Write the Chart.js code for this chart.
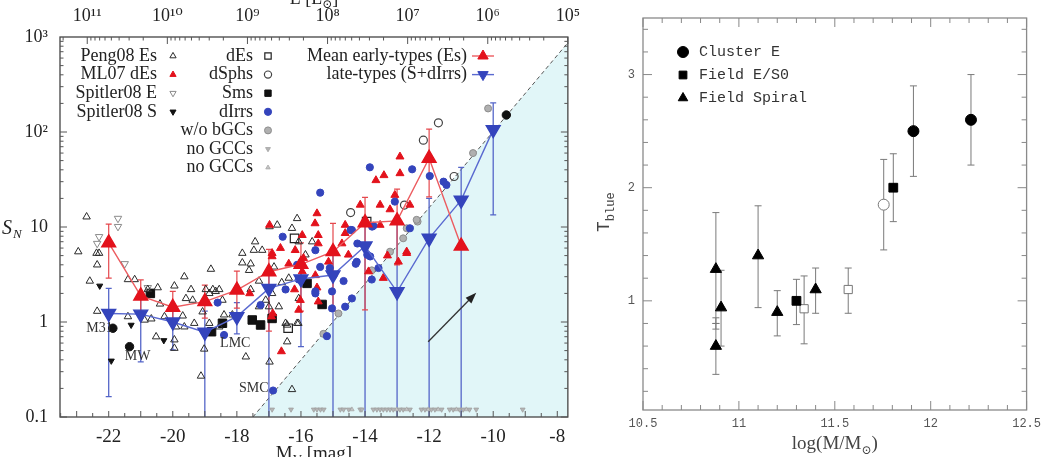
<!DOCTYPE html>
<html>
<head>
<meta charset="utf-8">
<script src="https://cdn.jsdelivr.net/npm/chart.js@4.4.1/dist/chart.umd.min.js"></script>
<style>
html, body { margin: 0; padding: 0; background: #fff; width: 1048px; height: 457px; overflow: hidden; }
#leftBox { position: absolute; left: 0; top: -12px; width: 590px; height: 469px; }
#rightBox { position: absolute; left: 580px; top: 0; width: 468px; height: 457px; }
</style>
</head>
<body>
<div id="leftBox"><canvas id="snChart"></canvas></div>
<div id="rightBox"><canvas id="tbChart"></canvas></div>
<script>
// ---------- left panel data: S_N vs M_V ----------
const magTicks = [-22, -20, -18, -16, -14, -12, -10, -8];
const snTicks = [0.1, 1, 10, 100, 1000];
const snTickLabels = ['0.1', '1', '10', '10²', '10³'];
const lumPowers = [11, 10, 9, 8, 7, 6, 5];
const lumLabels = ['10¹¹', '10¹⁰', '10⁹', '10⁸', '10⁷', '10⁶', '10⁵'];

// binned means
const meanMag = [-22, -21, -20, -19, -18, -17, -16, -15, -14, -13, -12, -11];
const meanEs = [6.8, 1.88, 1.43, 1.64, 2.17, 3.38, 4.05, 5.5, 11.1, 11.6, 52.9, 6.3];
const meanEsLo = [2.9, 1.3, 1.0, 1.1, 1.4, 0.8, 1.3, 1.3, 1.34, 4.0, 20.8, null];
const meanEsHi = [10.7, 2.77, 2.1, 2.45, 3.44, 5.8, 6.8, 10.9, 20.5, 25, 107, null];

const lateMag = [-22, -21, -20, -19, -18, -17, -16, -15, -14, -13, -12, -11, -10];
const lateS = [1.23, 1.21, 1.0, 0.78, 1.14, 2.26, 2.84, 3.12, 6.3, 2.08, 7.6, 19.2, 106];
const lateLo = [0.164, 0.38, 0.51, 0.05, 0.75, 0.05, 0.55, 0.05, 0.05, 0.05, 0.05, 0.05, 13.4];
const lateHi = [2.26, 1.9, 1.5, 1.3, 1.6, 3.5, 4.5, 5.5, 11, 12, 20, 42.4, 203];

// N_GC = 1 limit (edge of shaded area)
const limitMag = [-17.5, -7.67];
const limitSN = [0.1, 870];

const peng08Es = [
  [-22.69, 12.8], [-22.95, 5.5], [-22.38, 5.3], [-22.30, 5.3], [-22.36, 4.0], [-22.59, 2.7], [-22.36, 1.3],
  [-21.40, 2.8], [-21.19, 2.8], [-20.78, 2.2], [-20.47, 2.3], [-19.95, 2.4], [-19.64, 3.0], [-18.81, 3.6],
  [-18.55, 2.2], [-18.97, 2.2], [-21.40, 1.14], [-20.88, 1.05], [-20.67, 1.08], [-20.26, 1.14], [-19.69, 1.16],
  [-19.90, 0.89], [-19.64, 0.89], [-19.95, 0.65], [-19.95, 0.53], [-20.52, 0.70], [-19.43, 2.2], [-19.59, 1.77],
  [-19.38, 1.70], [-18.86, 2.0], [-18.66, 2.1], [-18.45, 1.70], [-19.33, 0.97], [-19.07, 1.28], [-18.86, 0.97],
  [-18.55, 0.89], [-18.40, 1.19], [-18.14, 1.19], [-17.83, 5.3], [-17.57, 4.1], [-17.62, 3.5], [-17.47, 5.7],
  [-17.21, 5.7], [-17.57, 2.2], [-17.31, 2.7], [-17.10, 1.70], [-16.69, 1.45], [-16.98, 10.1], [-16.74, 10.5],
  [-16.28, 9.7], [-16.07, 7.0], [-15.65, 7.0], [-16.07, 1.77], [-16.12, 0.97], [-16.43, 0.93], [-16.43, 0.62],
  [-16.98, 0.38], [-17.72, 0.43], [-19.12, 0.27], [-19.02, 0.52], [-16.28, 0.195], [-16.84, 3.8], [-16.38, 2.9],
  [-17.00, 1.45], [-17.31, 1.45], [-16.12, 12.3], [-17.43, 7.0], [-17.83, 4.2], [-18.75, 2.2], [-16.48, 0.97],
  [-16.08, 0.97], [-15.86, 5.1], [-21.00, 1.9], [-20.40, 1.55], [-16.60, 2.6], [-16.90, 2.0]
];
const ml07dEs = [
  [-16.98, 10.5], [-15.96, 8.2], [-15.50, 13.9], [-14.62, 10.5], [-14.15, 17.1], [-13.53, 17.1], [-14.72, 6.7],
  [-15.14, 4.3], [-15.55, 3.1], [-16.90, 5.3], [-16.64, 6.0], [-16.38, 4.1], [-15.96, 3.4], [-16.02, 1.70],
  [-16.07, 1.34], [-16.92, 1.14], [-16.61, 0.49], [-12.70, 5.3], [-12.96, 4.3], [-13.89, 3.4], [-13.43, 2.9],
  [-12.91, 55], [-12.91, 36.7], [-13.41, 35], [-13.66, 31], [-13.22, 15.3], [-13.07, 21.7], [-12.60, 17.1],
  [-13.53, 10.5], [-14.52, 5.1], [-12.70, 5.5], [-15.56, 10.9], [-14.62, 8.6], [-16.18, 5.7], [-15.92, 4.7],
  [-15.46, 8.2], [-15.46, 6.7], [-16.90, 4.9], [-16.20, 2.2], [-15.50, 2.3], [-15.46, 1.64], [-16.88, 1.23],
  [-17.60, 2.0], [-13.30, 5.0]
];
const spitlerE = [[-21.71, 12.3], [-21.71, 10.1], [-22.30, 7.9], [-22.36, 6.7], [-21.50, 4.1], [-20.78, 2.3]];
const spitlerS = [[-22.28, 2.4], [-21.30, 0.93], [-20.28, 0.64], [-21.92, 0.39], [-20.67, 2.1]];
const dEs = [[-16.20, 7.6], [-13.95, 11.4], [-16.40, 0.86]];
const dSphs = [[-11.71, 125], [-12.18, 82], [-14.45, 14.2], [-12.77, 17], [-11.22, 34]];
const sms = [[-15.81, 2.55], [-15.34, 1.53], [-17.52, 1.05], [-17.26, 0.93], [-16.90, 1.09], [-18.45, 0.97], [-18.79, 0.79], [-20.70, 2.0]];
const dIrrs = [
  [-16.57, 7.9], [-15.55, 5.7], [-14.41, 9.3], [-13.74, 10.3], [-13.07, 18.5], [-16.12, 4.0], [-15.40, 3.8],
  [-14.98, 3.1], [-14.67, 2.7], [-14.26, 4.3], [-13.84, 4.9], [-13.79, 2.8], [-13.58, 3.7], [-15.55, 2.1],
  [-15.03, 2.1], [-14.41, 1.77], [-15.03, 1.39], [-14.62, 1.45], [-15.19, 0.71], [-17.26, 1.51], [-18.40, 0.73],
  [-16.87, 0.19], [-16.48, 2.2], [-13.85, 42.5], [-12.53, 40.5], [-11.98, 34.4], [-11.46, 27.7], [-14.45, 9.3],
  [-13.78, 10.1], [-12.60, 9.7], [-14.24, 6.7], [-13.93, 5.1], [-14.29, 4.1], [-15.40, 23], [-16.07, 2.8],
  [-15.55, 2.0], [-15.10, 3.7], [-18.60, 1.6], [-11.55, 30]
];
const woBGCs = [[-10.16, 177], [-10.63, 60], [-12.36, 11.4], [-12.81, 7.6], [-13.22, 5.5], [-13.79, 3.5], [-14.83, 1.23], [-12.70, 9.7], [-12.39, 11.9], [-15.30, 0.75]];
const noGccDown = [
  [-16.90, 0.12], [-16.31, 0.12], [-15.60, 0.12], [-15.50, 0.12], [-15.39, 0.12], [-15.29, 0.12], [-14.77, 0.12],
  [-14.67, 0.12], [-14.51, 0.12], [-14.15, 0.12], [-14.10, 0.12], [-13.74, 0.12], [-13.63, 0.12], [-13.53, 0.12],
  [-13.43, 0.12], [-13.32, 0.12], [-13.22, 0.12], [-13.12, 0.12], [-12.91, 0.12], [-12.81, 0.12], [-12.60, 0.12],
  [-12.24, 0.12], [-12.13, 0.12], [-11.93, 0.12], [-11.82, 0.12], [-11.61, 0.12], [-11.36, 0.12], [-11.25, 0.12],
  [-11.05, 0.12], [-10.94, 0.12], [-10.74, 0.12], [-10.53, 0.12], [-9.08, 0.12]
];
const noGccUp = [[-14.41, 0.12], [-13.01, 0.12], [-12.70, 0.12], [-12.03, 0.12], [-11.72, 0.12], [-11.15, 0.12], [-10.84, 0.12]];
const bigSpirals = [[-21.87, 0.86], [-21.35, 0.55], [-9.59, 151]];

const galaxyNames = ['M31', 'MW', 'LMC', 'SMC'];
const nameMag = [-22.29, -21.10, -18.05, -17.47];
const nameSN = [0.865, 0.43, 0.60, 0.20];
const arrowMag = [-12.03, -10.53];
const arrowSN = [0.62, 2.03];

// ---------- right panel data: T_blue vs log(M) ----------
// rows: [logM, T, low, high]
const clusterE = [[11.91, 2.50, 2.10, 2.90], [12.21, 2.60, 2.20, 3.00]];
const fieldES0 = [[11.30, 1.00, 0.79, 1.19], [11.805, 2.00, 1.70, 2.30]];
const fieldSpiral = [[10.88, 1.28, 0.80, 1.78], [10.907, 0.94, 0.60, 1.27], [10.88, 0.60, 0.35, 0.80], [11.10, 1.40, 0.94, 1.84], [11.20, 0.90, 0.69, 1.09], [11.40, 1.10, 0.89, 1.29]];
const openCircle = [[11.755, 1.85, 1.45, 2.25]];
const openSquares = [[11.34, 0.93, 0.62, 1.22], [11.57, 1.10, 0.89, 1.29]];
const smallBar = [[10.88, 0.80, 0.75, 0.85]];
const massTicks = [10.5, 11, 11.5, 12, 12.5];
const tTicks = [1, 2, 3];

const SERIF = '"Liberation Serif", "DejaVu Serif", serif';
const MONO = '"Liberation Mono", "DejaVu Sans Mono", monospace';

const xy = arr => arr.map(p => ({ x: p[0], y: p[1] }));
const zip = (xs, ys) => xs.map((v, i) => ({ x: v, y: ys[i] }));

function mark(ctx, style, x, y, r, rot, fill, stroke, lw) {
  ctx.save();
  ctx.beginPath();
  if (style === 'circle') {
    ctx.arc(x, y, r, 0, Math.PI * 2);
  } else if (style === 'rect') {
    const s = r * Math.SQRT1_2;
    ctx.rect(x - s, y - s, 2 * s, 2 * s);
  } else {
    let a = (rot || 0) * Math.PI / 180;
    for (let k = 0; k < 3; k++) {
      const px = x + Math.sin(a) * r, py = y - Math.cos(a) * r;
      k === 0 ? ctx.moveTo(px, py) : ctx.lineTo(px, py);
      a += Math.PI * 2 / 3;
    }
    ctx.closePath();
  }
  if (fill) { ctx.fillStyle = fill; ctx.fill(); }
  if (stroke && lw > 0) { ctx.strokeStyle = stroke; ctx.lineWidth = lw; ctx.stroke(); }
  ctx.restore();
}

function errBars(ctx, xs, ys, px, lo, hi, color, cap, lw) {
  ctx.strokeStyle = color;
  ctx.lineWidth = lw;
  px.forEach((m, i) => {
    if (lo[i] == null) return;
    const x = xs.getPixelForValue(m);
    const y1 = ys.getPixelForValue(lo[i]), y2 = ys.getPixelForValue(hi[i]);
    ctx.beginPath();
    ctx.moveTo(x, y1); ctx.lineTo(x, y2);
    ctx.moveTo(x - cap, y1); ctx.lineTo(x + cap, y1);
    ctx.moveTo(x - cap, y2); ctx.lineTo(x + cap, y2);
    ctx.stroke();
  });
}

// scatter dataset helper
function pset(label, data, style, r, fill, stroke, rot, lw, order) {
  return {
    label: label, data: xy(data), pointStyle: style, pointRadius: r, pointRotation: rot || 0,
    pointBackgroundColor: fill, pointBorderColor: stroke, pointBorderWidth: lw == null ? 1 : lw,
    order: order || 10
  };
}

const RED = '#e3121c', BLUE = '#3444bc';

const leftSets = [
  { label: 'limit', type: 'line', data: zip(limitMag, limitSN), borderColor: '#555', borderDash: [4, 3], borderWidth: 1,
    backgroundColor: '#e1f6f8', fill: 'start', pointRadius: 0, order: 100 },
  pset('no GCCs', noGccDown, 'triangle', 2.8, '#b5b5b5', '#a0a0a0', 180, 0.8, 40),
  pset('no GCCs up', noGccUp, 'triangle', 2.6, '#c5c5c5', '#a8a8a8', 0, 0.8, 40),
  pset('Peng08 Es', peng08Es, 'triangle', 4.3, 'rgba(255,255,255,0)', '#2a2a2a', 0, 1, 30),
  pset('Spitler08 E', spitlerE, 'triangle', 4.3, 'rgba(255,255,255,0)', '#8a8a8a', 180, 1, 30),
  pset('Spitler08 S', spitlerS, 'triangle', 3.5, '#111', '#111', 180, 1, 30),
  pset('dEs', dEs, 'rect', 6, 'rgba(255,255,255,0)', '#222', 0, 1.2, 30),
  pset('dSphs', dSphs, 'circle', 4, 'rgba(255,255,255,0)', '#444', 0, 1.2, 30),
  pset('Sms', sms, 'rect', 6, '#111', '#111', 0, 1, 30),
  pset('w/o bGCs', woBGCs, 'circle', 3.5, '#b0b0b0', '#8c8c8c', 0, 1, 25),
  pset('dIrrs', dIrrs, 'circle', 3.6, BLUE, BLUE, 0, 1, 20),
  pset('ML07 dEs', ml07dEs, 'triangle', 4.6, RED, RED, 0, 1, 20),
  pset('named', bigSpirals, 'circle', 4.2, '#111', '#111', 0, 1, 20),
  { label: 'late-types (S+dIrrs)', type: 'line', data: zip(lateMag, lateS), borderColor: '#5a6ad0', borderWidth: 1.4,
    pointStyle: 'triangle', pointRotation: 180, pointRadius: 8, pointBackgroundColor: BLUE, pointBorderColor: BLUE,
    fill: false, tension: 0, order: 2 },
  { label: 'Mean early-types (Es)', type: 'line', data: zip(meanMag, meanEs), borderColor: '#ec5c60', borderWidth: 1.4,
    pointStyle: 'triangle', pointRadius: 8, pointBackgroundColor: RED, pointBorderColor: RED,
    fill: false, tension: 0, order: 1 }
];

// legend layout: [dataset label, column, row, legend text]
const leftLegend = [
  ['Peng08 Es', 0, 0], ['ML07 dEs', 0, 1], ['Spitler08 E', 0, 2], ['Spitler08 S', 0, 3],
  ['dEs', 1, 0], ['dSphs', 1, 1], ['Sms', 1, 2], ['dIrrs', 1, 3], ['w/o bGCs', 1, 4], ['no GCCs', 1, 5], ['no GCCs up', 1, 6, 'no GCCs'],
  ['Mean early-types (Es)', 2, 0], ['late-types (S+dIrrs)', 2, 1]
];
const legTextX = [157, 253, 467];
const legMarkX = [173, 268, 483];

const leftDecor = {
  id: 'leftDecor',
  afterDatasetDraw(chart, args) {
    if (args.index !== 0) return;
    const ctx = chart.ctx, a = chart.chartArea, xs = chart.scales.x, ys = chart.scales.y;
    ctx.save();
    ctx.beginPath(); ctx.rect(a.left, a.top, a.right - a.left, a.bottom - a.top); ctx.clip();
    errBars(ctx, xs, ys, lateMag, lateLo, lateHi, '#5465c8', 3, 1.3);
    errBars(ctx, xs, ys, meanMag, meanEsLo, meanEsHi, '#e5484d', 3, 1.2);
    ctx.restore();
  },
  afterDraw(chart) {
    const ctx = chart.ctx, a = chart.chartArea, xs = chart.scales.x, ys = chart.scales.y;
    ctx.save();
    // frame
    ctx.strokeStyle = '#444'; ctx.lineWidth = 1.3;
    ctx.strokeRect(a.left, a.top, a.right - a.left, a.bottom - a.top);
    // inner ticks
    ctx.lineWidth = 1; ctx.strokeStyle = '#555';
    ctx.beginPath();
    for (let m = -23.5; m <= -7.9; m += 0.5) {
      const x = xs.getPixelForValue(m), len = Number.isInteger(m) ? 6 : 4;
      ctx.moveTo(x, a.bottom); ctx.lineTo(x, a.bottom - len);
    }
    for (let p = 5; p <= 11; p++) {
      for (let k = 1; k <= 9; k++) {
        const m = 4.83 - 2.5 * Math.log10(k * Math.pow(10, p));
        if (m < xs.min || m > xs.max) continue;
        const x = xs.getPixelForValue(m), len = k === 1 ? 7 : 3.5;
        ctx.moveTo(x, a.top); ctx.lineTo(x, a.top + len);
      }
    }
    for (let d = -1; d <= 2; d++) {
      for (let k = 1; k <= 9; k++) {
        const y = ys.getPixelForValue(k * Math.pow(10, d)), len = k === 1 ? 7 : 3.5;
        ctx.moveTo(a.left, y); ctx.lineTo(a.left + len, y);
        ctx.moveTo(a.right, y); ctx.lineTo(a.right - len, y);
      }
    }
    ctx.stroke();

    // galaxy names
    ctx.fillStyle = '#333'; ctx.font = '14px ' + SERIF;
    ctx.textAlign = 'center'; ctx.textBaseline = 'middle';
    galaxyNames.forEach((n, i) => ctx.fillText(n, xs.getPixelForValue(nameMag[i]), ys.getPixelForValue(nameSN[i])));

    // arrow
    const x1 = xs.getPixelForValue(arrowMag[0]), y1 = ys.getPixelForValue(arrowSN[0]);
    const x2 = xs.getPixelForValue(arrowMag[1]), y2 = ys.getPixelForValue(arrowSN[1]);
    const ang = Math.atan2(y2 - y1, x2 - x1);
    ctx.strokeStyle = '#333'; ctx.fillStyle = '#222'; ctx.lineWidth = 1.3;
    ctx.beginPath(); ctx.moveTo(x1, y1); ctx.lineTo(x2 - 6 * Math.cos(ang), y2 - 6 * Math.sin(ang)); ctx.stroke();
    ctx.beginPath();
    ctx.moveTo(x2, y2);
    ctx.lineTo(x2 - 11 * Math.cos(ang) + 4 * Math.sin(ang), y2 - 11 * Math.sin(ang) - 4 * Math.cos(ang));
    ctx.lineTo(x2 - 11 * Math.cos(ang) - 4 * Math.sin(ang), y2 - 11 * Math.sin(ang) + 4 * Math.cos(ang));
    ctx.closePath(); ctx.fill();

    // legend
    ctx.font = '18px ' + SERIF; ctx.textAlign = 'right'; ctx.textBaseline = 'middle'; ctx.fillStyle = '#222';
    leftLegend.forEach(item => {
      const ds = chart.data.datasets.find(d => d.label === item[0]);
      const y = 68 + item[2] * 18.6;
      ctx.fillText(item[3] || item[0], legTextX[item[1]], y);
      const mx = legMarkX[item[1]];
      let r = ds.pointRadius;
      if (ds.type === 'line') {
        ctx.strokeStyle = ds.borderColor; ctx.lineWidth = 1.4;
        ctx.beginPath(); ctx.moveTo(mx - 11, y); ctx.lineTo(mx + 11, y); ctx.stroke();
        r = 6;
      } else {
        r = Math.min(r, 3.6);
        if (ds.pointStyle === 'rect') r = 4.5;
      }
      mark(ctx, ds.pointStyle, mx, y, r, ds.pointRotation, ds.pointBackgroundColor, ds.pointBorderColor, ds.pointBorderWidth || 1);
    });

    // axis titles
    ctx.fillStyle = '#222'; ctx.textAlign = 'left'; ctx.textBaseline = 'alphabetic';
    const cx = (a.left + a.right) / 2;
    ctx.font = '19px ' + SERIF;
    const wM = ctx.measureText('M').width, wRest = ctx.measureText(' [mag]').width;
    ctx.font = '13px ' + SERIF;
    const wV = ctx.measureText('V').width;
    let sx = cx - (wM + wV + wRest) / 2;
    ctx.font = '19px ' + SERIF; ctx.fillText('M', sx, 471);
    ctx.font = '13px ' + SERIF; ctx.fillText('V', sx + wM, 475);
    ctx.font = '19px ' + SERIF; ctx.fillText(' [mag]', sx + wM + wV, 471);

    ctx.font = '18px ' + SERIF;
    const wL = ctx.measureText('L [L').width, wB = ctx.measureText(']').width;
    ctx.font = '12px ' + SERIF;
    const wS = ctx.measureText('⊙').width;
    sx = cx - (wL + wS + wB) / 2;
    ctx.font = '18px ' + SERIF; ctx.fillText('L [L', sx, 16);
    ctx.font = '12px ' + SERIF; ctx.fillText('⊙', sx + wL, 20);
    ctx.font = '18px ' + SERIF; ctx.fillText(']', sx + wL + wS, 16);

    ctx.font = 'italic 20px ' + SERIF; ctx.fillText('S', 2, 246);
    ctx.font = 'italic 13px ' + SERIF; ctx.fillText('N', 13, 250);
    ctx.restore();
  }
};

new Chart(document.getElementById('snChart'), {
  type: 'scatter',
  data: { datasets: leftSets },
  options: {
    responsive: true, maintainAspectRatio: false, animation: false, events: [],
    layout: { padding: { left: 0, right: 19, top: 0, bottom: 0 } },
    plugins: { legend: { display: false }, tooltip: { enabled: false } },
    scales: {
      x: {
        type: 'linear', position: 'bottom', min: -23.52, max: -7.67,
        grid: { display: false, drawTicks: false }, border: { display: false },
        afterBuildTicks: s => { s.ticks = magTicks.map(v => ({ value: v })); },
        ticks: { font: { family: SERIF, size: 19 }, color: '#222', padding: 9, maxRotation: 0, autoSkip: false, callback: v => String(v) },
        afterFit: s => { s.height = 40; }
      },
      x2: {
        type: 'linear', position: 'top', min: -23.52, max: -7.67,
        grid: { display: false, drawTicks: false }, border: { display: false },
        afterBuildTicks: s => { s.ticks = lumPowers.map(p => ({ value: 4.83 - 2.5 * p })); },
        ticks: { font: { family: SERIF, size: 18 }, color: '#222', padding: 10, maxRotation: 0, autoSkip: false, callback: (v, i) => lumLabels[i] },
        afterFit: s => { s.height = 49; }
      },
      y: {
        type: 'logarithmic', min: 0.1, max: 1000,
        grid: { display: false, drawTicks: false }, border: { display: false },
        afterBuildTicks: s => { s.ticks = snTicks.map(v => ({ value: v })); },
        ticks: { font: { family: SERIF, size: 18 }, color: '#222', padding: 12, autoSkip: false, callback: (v, i) => snTickLabels[i] },
        afterFit: s => { s.width = 60; }
      }
    }
  },
  plugins: [leftDecor]
});

// ---------- right panel ----------
const rowsPts = rows => rows.map(r => ({ x: r[0], y: r[1] }));
const rightGroups = [clusterE, fieldES0, fieldSpiral, openCircle, openSquares, smallBar];

const rightSets = [
  { label: 'Cluster E', data: rowsPts(clusterE), pointStyle: 'circle', pointRadius: 5.5, pointBackgroundColor: '#000', pointBorderColor: '#000' },
  { label: 'Field E/S0', data: rowsPts(fieldES0), pointStyle: 'rect', pointRadius: 6.2, pointBackgroundColor: '#000', pointBorderColor: '#000' },
  { label: 'Field Spiral', data: rowsPts(fieldSpiral), pointStyle: 'triangle', pointRadius: 6.5, pointBackgroundColor: '#000', pointBorderColor: '#000' },
  { label: 'open circle', data: rowsPts(openCircle), pointStyle: 'circle', pointRadius: 5.5, pointBackgroundColor: '#fff', pointBorderColor: '#777', pointBorderWidth: 1 },
  { label: 'open squares', data: rowsPts(openSquares), pointStyle: 'rect', pointRadius: 5.8, pointBackgroundColor: '#fff', pointBorderColor: '#777', pointBorderWidth: 1 }
];

const rightDecor = {
  id: 'rightDecor',
  beforeDatasetsDraw(chart) {
    const ctx = chart.ctx, xs = chart.scales.x, ys = chart.scales.y;
    ctx.save();
    rightGroups.forEach(rows => {
      errBars(ctx, xs, ys, rows.map(r => r[0]), rows.map(r => r[2]), rows.map(r => r[3]), '#7a7a7a', 3.5, 1);
    });
    ctx.restore();
  },
  afterDraw(chart) {
    const ctx = chart.ctx, a = chart.chartArea, xs = chart.scales.x, ys = chart.scales.y;
    ctx.save();
    ctx.strokeStyle = '#8a8a8a'; ctx.lineWidth = 1.3;
    ctx.strokeRect(a.left, a.top, a.right - a.left, a.bottom - a.top);
    ctx.lineWidth = 1; ctx.strokeStyle = '#888';
    ctx.beginPath();
    for (let i = 0; i <= 20; i++) {
      const v = 10.5 + i * 0.1, x = xs.getPixelForValue(v), len = i % 5 === 0 ? 9 : 5;
      ctx.moveTo(x, a.bottom); ctx.lineTo(x, a.bottom - len);
      ctx.moveTo(x, a.top); ctx.lineTo(x, a.top + len);
    }
    for (let i = 1; i <= 17; i++) {
      const v = i * 0.2, y = ys.getPixelForValue(v), len = i % 5 === 0 ? 9 : 5;
      ctx.moveTo(a.left, y); ctx.lineTo(a.left + len, y);
      ctx.moveTo(a.right, y); ctx.lineTo(a.right - len, y);
    }
    ctx.stroke();

    // legend
    ctx.font = '15px ' + MONO; ctx.fillStyle = '#333'; ctx.textAlign = 'left'; ctx.textBaseline = 'middle';
    rightSets.slice(0, 3).forEach((ds, i) => {
      const y = 52 + i * 23;
      mark(ctx, ds.pointStyle, 103, y, ds.pointStyle === 'rect' ? 5.5 : 5.5, 0, '#000', '#000', 1);
      ctx.fillText(ds.label, 119, y);
    });

    // titles
    ctx.fillStyle = '#444'; ctx.textBaseline = 'alphabetic';
    ctx.font = '19px ' + SERIF;
    const w1 = ctx.measureText('log(M/M').width, w3 = ctx.measureText(')').width;
    ctx.font = '12px ' + SERIF;
    const w2 = ctx.measureText('⊙').width;
    const cx = (a.left + a.right) / 2;
    let sx = cx - (w1 + w2 + w3) / 2;
    ctx.font = '19px ' + SERIF; ctx.fillText('log(M/M', sx, 449);
    ctx.font = '12px ' + SERIF; ctx.fillText('⊙', sx + w1, 454);
    ctx.font = '19px ' + SERIF; ctx.fillText(')', sx + w1 + w2, 449);

    ctx.translate(29, 232);
    ctx.rotate(-Math.PI / 2);
    ctx.font = '18px ' + MONO; ctx.fillText('T', 0, 0);
    const wT = ctx.measureText('T').width;
    ctx.font = '12px ' + MONO; ctx.fillText('blue', wT, 5);
    ctx.restore();
  }
};

new Chart(document.getElementById('tbChart'), {
  type: 'scatter',
  data: { datasets: rightSets },
  options: {
    responsive: true, maintainAspectRatio: false, animation: false, events: [],
    layout: { padding: { left: 0, right: 15, top: 18, bottom: 0 } },
    plugins: { legend: { display: false }, tooltip: { enabled: false } },
    scales: {
      x: {
        type: 'linear', min: 10.5, max: 12.5,
        grid: { display: false, drawTicks: false }, border: { display: false },
        afterBuildTicks: s => { s.ticks = massTicks.map(v => ({ value: v })); },
        ticks: { font: { family: MONO, size: 12 }, color: '#555', padding: 7, maxRotation: 0, autoSkip: false,
          callback: v => Number.isInteger(v) ? String(v) : v.toFixed(1) },
        afterFit: s => { s.height = 47; }
      },
      y: {
        type: 'linear', min: 0.035, max: 3.5,
        grid: { display: false, drawTicks: false }, border: { display: false },
        afterBuildTicks: s => { s.ticks = tTicks.map(v => ({ value: v })); },
        ticks: { font: { family: MONO, size: 12 }, color: '#555', padding: 8, autoSkip: false, callback: v => String(v) },
        afterFit: s => { s.width = 63; }
      }
    }
  },
  plugins: [rightDecor]
});
</script>
</body>
</html>
